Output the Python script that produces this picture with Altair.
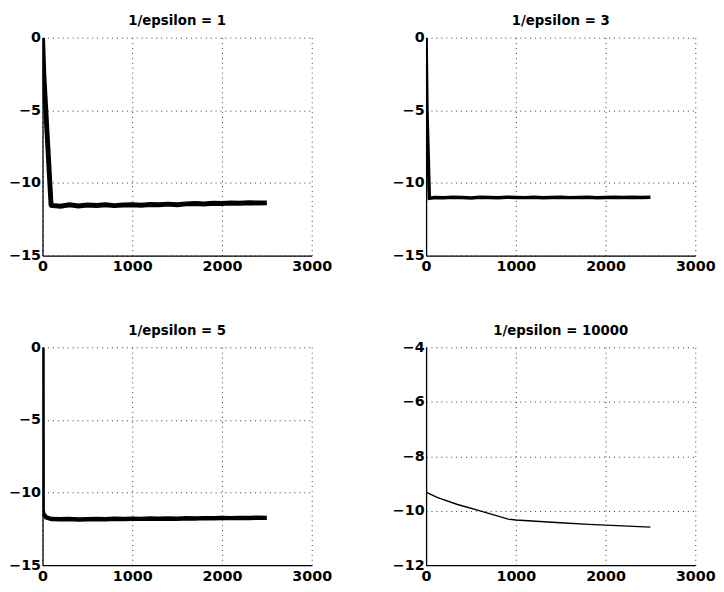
import altair as alt
import pandas as pd

# ---- data ----
p1_x = [0, 15, 95, 100, 200, 300, 400, 500, 600, 700, 800, 900, 1000, 1100, 1200, 1300,
        1400, 1500, 1600, 1700, 1800, 1900, 2000, 2100, 2200, 2300, 2400, 2500]
p1_y = [0, -2.6, -11.5, -11.55, -11.6, -11.5, -11.58, -11.52, -11.55, -11.5, -11.56, -11.52,
        -11.5, -11.54, -11.48, -11.5, -11.46, -11.5, -11.44, -11.42, -11.45, -11.4, -11.42,
        -11.38, -11.4, -11.36, -11.38, -11.37]

p2_x = [0, 10, 18, 36, 100, 200, 300, 400, 500, 600, 700, 800, 900, 1000, 1100, 1200, 1300,
        1400, 1500, 1600, 1700, 1800, 1900, 2000, 2100, 2200, 2300, 2400, 2500]
p2_y = [0, -5.0, -6.9, -11.05, -11.0, -11.02, -10.98, -11.0, -11.03, -10.99, -11.0, -11.02,
        -10.98, -11.0, -11.01, -10.99, -11.02, -11.0, -10.98, -11.01, -11.0, -10.99, -11.02,
        -11.0, -10.98, -11.0, -10.99, -11.0, -10.98]

p3_x = [0, 2, 8, 40, 100, 200, 300, 400, 500, 600, 700, 800, 900, 1000, 1100, 1200, 1300,
        1400, 1500, 1600, 1700, 1800, 1900, 2000, 2100, 2200, 2300, 2400, 2500]
p3_y = [0, -11.2, -11.45, -11.7, -11.82, -11.84, -11.82, -11.85, -11.83, -11.82, -11.84,
        -11.8, -11.82, -11.8, -11.81, -11.79, -11.8, -11.78, -11.8, -11.77, -11.78, -11.76,
        -11.77, -11.75, -11.76, -11.74, -11.75, -11.73, -11.74]

p4_x = [0, 3, 130, 350, 640, 915, 1000, 1450, 1810, 2000, 2500]
p4_y = [-4.0, -9.33, -9.52, -9.77, -10.04, -10.31, -10.34, -10.43, -10.5, -10.53, -10.6]

titles = ["1/epsilon = 1", "1/epsilon = 3", "1/epsilon = 5", "1/epsilon = 10000"]
x_ticks = [0, 1000, 2000, 3000]
y_ticks_a = [0, -5, -10, -15]
y_ticks_b = [-4, -6, -8, -10, -12]

W, H = 273, 221
FONT = "DejaVu Sans"


def panel(xs, ys, title, ydom, yticks, sw):
    df = pd.DataFrame({"x": xs, "y": ys})
    return (
        alt.Chart(df)
        .mark_line(color="black", strokeWidth=sw, clip=True)
        .encode(
            x=alt.X("x:Q", title=None,
                    scale=alt.Scale(domain=[0, 3000], nice=False, zero=False),
                    axis=alt.Axis(values=x_ticks, format="d", labelFlush=False,
                                  labelPadding=4)),
            y=alt.Y("y:Q", title=None,
                    scale=alt.Scale(domain=ydom, nice=False, zero=False),
                    axis=alt.Axis(values=yticks, labelFlush=False, labelPadding=2)),
        )
        .properties(width=W, height=H, title=title)
    )


c1 = panel(p1_x, p1_y, titles[0], [-15, 0], y_ticks_a, 5)
c2 = panel(p2_x, p2_y, titles[1], [-15, 0], y_ticks_a, 3.5)
c3 = panel(p3_x, p3_y, titles[2], [-15, 0], y_ticks_a, 4.5)
c4 = panel(p4_x, p4_y, titles[3], [-12, -4], y_ticks_b, 1.4)

chart = (
    alt.vconcat(
        alt.hconcat(c1, c2, spacing=60),
        alt.hconcat(c3, c4, spacing=60),
        spacing=51,
    )
    .properties(padding={"left": 0, "top": 2, "right": 0, "bottom": 0})
    .configure_view(strokeWidth=0)
    .configure_axis(
        labelFont=FONT, labelFontSize=14.5, labelFontWeight="bold", labelColor="black",
        ticks=False,
        domainColor="black", domainWidth=1.3,
        grid=True, gridColor="black", gridDash=[1, 4], gridOpacity=0.8, gridWidth=1,
    )
    .configure_title(font=FONT, fontSize=13.5, fontWeight="bold", color="black", offset=2)
)

chart.save("out.html", embed_options={"renderer": "svg", "actions": False})
